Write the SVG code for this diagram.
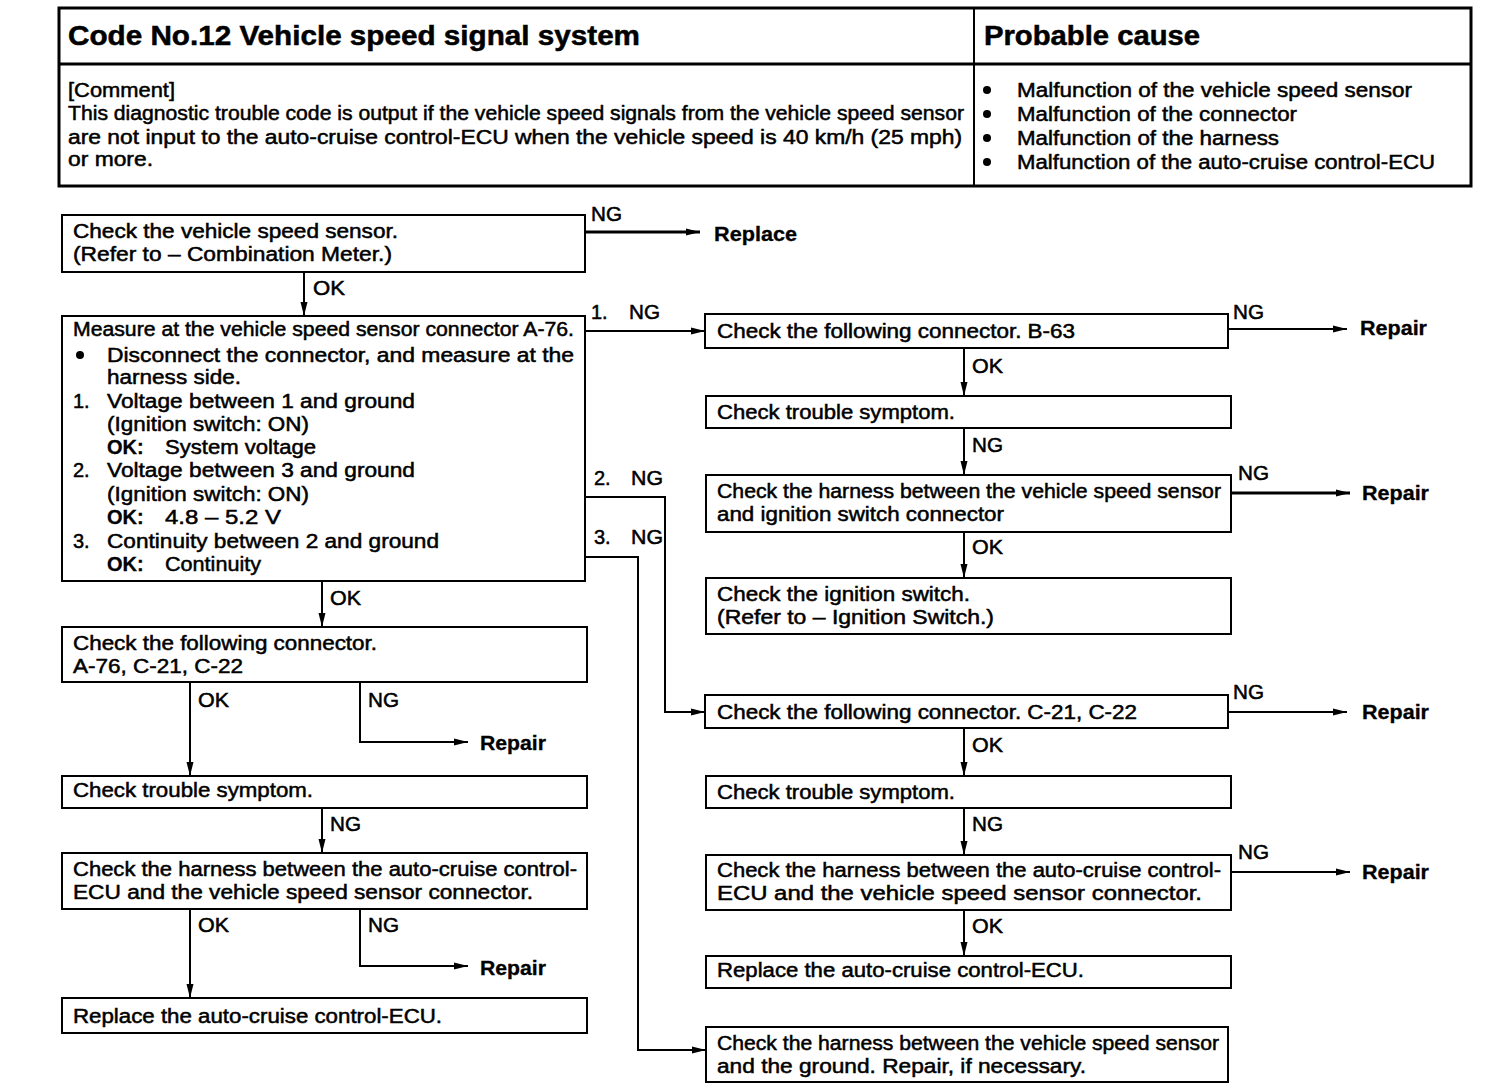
<svg xmlns="http://www.w3.org/2000/svg" width="1488" height="1090" viewBox="0 0 1488 1090">
<style>
.t{font-family:"Liberation Sans",Arial,sans-serif;font-size:20px;fill:#000;stroke:#000;stroke-width:0.5}
.b{font-weight:bold;stroke-width:0.3}
.h{font-family:"Liberation Sans",Arial,sans-serif;font-size:27px;font-weight:bold;fill:#000;stroke:#000;stroke-width:0.5}
.box{fill:#fff;stroke:#000;stroke-width:2}
.c{fill:none;stroke:#000;stroke-width:2}
.c3{fill:none;stroke:#000;stroke-width:3}
</style>
<defs>
<marker id="ar" markerUnits="userSpaceOnUse" markerWidth="16" markerHeight="10" refX="14" refY="5" orient="auto">
<path d="M0,1.5 L14,5 L0,8.5 Z" fill="#000"/>
</marker>
</defs>
<rect width="1488" height="1090" fill="#fff"/>

<g id="header">
<rect x="59" y="8" width="1412" height="178" fill="#fff" stroke="#000" stroke-width="3"/>
<line x1="974" y1="8" x2="974" y2="186" stroke="#000" stroke-width="2"/>
<line x1="59" y1="64" x2="1471" y2="64" stroke="#000" stroke-width="3"/>
<text class="h" x="68" y="45" textLength="572" lengthAdjust="spacingAndGlyphs">Code No.12 Vehicle speed signal system</text>
<text class="h" x="984" y="45" textLength="216" lengthAdjust="spacingAndGlyphs">Probable cause</text>
<text class="t" x="68" y="97" textLength="107" lengthAdjust="spacingAndGlyphs">[Comment]</text>
<text class="t" x="68" y="120" textLength="896" lengthAdjust="spacingAndGlyphs">This diagnostic trouble code is output if the vehicle speed signals from the vehicle speed sensor</text>
<text class="t" x="68" y="144" textLength="894" lengthAdjust="spacingAndGlyphs">are not input to the auto-cruise control-ECU when the vehicle speed is 40 km/h (25 mph)</text>
<text class="t" x="68" y="166" textLength="85" lengthAdjust="spacingAndGlyphs">or more.</text>
<circle cx="987" cy="90" r="4"/>
<circle cx="987" cy="114" r="4"/>
<circle cx="987" cy="138" r="4"/>
<circle cx="987" cy="162" r="4"/>
<text class="t" x="1017" y="97" textLength="395" lengthAdjust="spacingAndGlyphs">Malfunction of the vehicle speed sensor</text>
<text class="t" x="1017" y="121" textLength="280" lengthAdjust="spacingAndGlyphs">Malfunction of the connector</text>
<text class="t" x="1017" y="145" textLength="262" lengthAdjust="spacingAndGlyphs">Malfunction of the harness</text>
<text class="t" x="1017" y="169" textLength="418" lengthAdjust="spacingAndGlyphs">Malfunction of the auto-cruise control-ECU</text>
</g>

<g id="connectors">
<polyline class="c3" points="585,232 700,232" marker-end="url(#ar)"/>
<polyline class="c" points="304,272 304,316" marker-end="url(#ar)"/>
<polyline class="c" points="585,331 705,331" marker-end="url(#ar)"/>
<polyline class="c" points="585,497 665,497 665,712 705,712" marker-end="url(#ar)"/>
<polyline class="c" points="585,557 638,557 638,1050 706,1050" marker-end="url(#ar)"/>
<polyline class="c" points="322,581 322,627" marker-end="url(#ar)"/>
<polyline class="c" points="1228,329 1347,329" marker-end="url(#ar)"/>
<polyline class="c" points="964,348 964,396" marker-end="url(#ar)"/>
<polyline class="c" points="964,428 964,475" marker-end="url(#ar)"/>
<polyline class="c3" points="1231,493 1350,493" marker-end="url(#ar)"/>
<polyline class="c" points="964,532 964,578" marker-end="url(#ar)"/>
<polyline class="c" points="1228,712 1347,712" marker-end="url(#ar)"/>
<polyline class="c" points="964,728 964,776" marker-end="url(#ar)"/>
<polyline class="c" points="964,808 964,855" marker-end="url(#ar)"/>
<polyline class="c" points="1231,872 1350,872" marker-end="url(#ar)"/>
<polyline class="c" points="964,910 964,956" marker-end="url(#ar)"/>
<polyline class="c" points="190,682 190,776" marker-end="url(#ar)"/>
<polyline class="c" points="360,682 360,742 468,742" marker-end="url(#ar)"/>
<polyline class="c" points="322,808 322,853" marker-end="url(#ar)"/>
<polyline class="c" points="190,909 190,998" marker-end="url(#ar)"/>
<polyline class="c" points="360,909 360,966 468,966" marker-end="url(#ar)"/>
</g>

<g id="labels">
<text class="t" x="591" y="221" textLength="31" lengthAdjust="spacingAndGlyphs">NG</text>
<text class="t b" x="714" y="241" textLength="83" lengthAdjust="spacingAndGlyphs">Replace</text>
<text class="t" x="313" y="295" textLength="32" lengthAdjust="spacingAndGlyphs">OK</text>
<text class="t" x="591" y="319">1.</text>
<text class="t" x="629" y="319" textLength="31" lengthAdjust="spacingAndGlyphs">NG</text>
<text class="t" x="594" y="485">2.</text>
<text class="t" x="631" y="485" textLength="32" lengthAdjust="spacingAndGlyphs">NG</text>
<text class="t" x="594" y="544">3.</text>
<text class="t" x="631" y="544" textLength="32" lengthAdjust="spacingAndGlyphs">NG</text>
<text class="t" x="1233" y="319" textLength="31" lengthAdjust="spacingAndGlyphs">NG</text>
<text class="t b" x="1360" y="335" textLength="67" lengthAdjust="spacingAndGlyphs">Repair</text>
<text class="t" x="972" y="373" textLength="31" lengthAdjust="spacingAndGlyphs">OK</text>
<text class="t" x="972" y="452" textLength="31" lengthAdjust="spacingAndGlyphs">NG</text>
<text class="t" x="1238" y="480" textLength="31" lengthAdjust="spacingAndGlyphs">NG</text>
<text class="t b" x="1362" y="500" textLength="67" lengthAdjust="spacingAndGlyphs">Repair</text>
<text class="t" x="972" y="554" textLength="31" lengthAdjust="spacingAndGlyphs">OK</text>
<text class="t" x="1233" y="699" textLength="31" lengthAdjust="spacingAndGlyphs">NG</text>
<text class="t b" x="1362" y="719" textLength="67" lengthAdjust="spacingAndGlyphs">Repair</text>
<text class="t" x="972" y="752" textLength="31" lengthAdjust="spacingAndGlyphs">OK</text>
<text class="t" x="972" y="831" textLength="31" lengthAdjust="spacingAndGlyphs">NG</text>
<text class="t" x="1238" y="859" textLength="31" lengthAdjust="spacingAndGlyphs">NG</text>
<text class="t b" x="1362" y="879" textLength="67" lengthAdjust="spacingAndGlyphs">Repair</text>
<text class="t" x="972" y="933" textLength="31" lengthAdjust="spacingAndGlyphs">OK</text>
<text class="t" x="330" y="605" textLength="31" lengthAdjust="spacingAndGlyphs">OK</text>
<text class="t" x="198" y="707" textLength="31" lengthAdjust="spacingAndGlyphs">OK</text>
<text class="t" x="368" y="707" textLength="31" lengthAdjust="spacingAndGlyphs">NG</text>
<text class="t b" x="480" y="750" textLength="66" lengthAdjust="spacingAndGlyphs">Repair</text>
<text class="t" x="330" y="831" textLength="31" lengthAdjust="spacingAndGlyphs">NG</text>
<text class="t" x="198" y="932" textLength="31" lengthAdjust="spacingAndGlyphs">OK</text>
<text class="t" x="368" y="932" textLength="31" lengthAdjust="spacingAndGlyphs">NG</text>
<text class="t b" x="480" y="975" textLength="66" lengthAdjust="spacingAndGlyphs">Repair</text>
</g>

<g id="n1">
<rect class="box" x="62" y="215" width="523" height="57"/>
<text class="t" x="73" y="238" textLength="325" lengthAdjust="spacingAndGlyphs">Check the vehicle speed sensor.</text>
<text class="t" x="73" y="261" textLength="319" lengthAdjust="spacingAndGlyphs">(Refer to – Combination Meter.)</text>
</g>

<g id="n2">
<rect class="box" x="62" y="316" width="523" height="265"/>
<text class="t" x="73" y="336" textLength="501" lengthAdjust="spacingAndGlyphs">Measure at the vehicle speed sensor connector A-76.</text>
<circle cx="80" cy="355" r="4"/>
<text class="t" x="107" y="362" textLength="467" lengthAdjust="spacingAndGlyphs">Disconnect the connector, and measure at the</text>
<text class="t" x="107" y="384" textLength="134" lengthAdjust="spacingAndGlyphs">harness side.</text>
<text class="t" x="73" y="408">1.</text>
<text class="t" x="107" y="408" textLength="308" lengthAdjust="spacingAndGlyphs">Voltage between 1 and ground</text>
<text class="t" x="107" y="431" textLength="202" lengthAdjust="spacingAndGlyphs">(Ignition switch: ON)</text>
<text class="t b" x="107" y="454">OK:</text>
<text class="t" x="165" y="454" textLength="151" lengthAdjust="spacingAndGlyphs">System voltage</text>
<text class="t" x="73" y="477">2.</text>
<text class="t" x="107" y="477" textLength="308" lengthAdjust="spacingAndGlyphs">Voltage between 3 and ground</text>
<text class="t" x="107" y="501" textLength="202" lengthAdjust="spacingAndGlyphs">(Ignition switch: ON)</text>
<text class="t b" x="107" y="524">OK:</text>
<text class="t" x="165" y="524" textLength="116" lengthAdjust="spacingAndGlyphs">4.8 – 5.2 V</text>
<text class="t" x="73" y="548">3.</text>
<text class="t" x="107" y="548" textLength="332" lengthAdjust="spacingAndGlyphs">Continuity between 2 and ground</text>
<text class="t b" x="107" y="571">OK:</text>
<text class="t" x="165" y="571" textLength="96" lengthAdjust="spacingAndGlyphs">Continuity</text>
</g>

<g id="n3">
<rect class="box" x="62" y="627" width="525" height="55"/>
<text class="t" x="73" y="650" textLength="304" lengthAdjust="spacingAndGlyphs">Check the following connector.</text>
<text class="t" x="73" y="673" textLength="170" lengthAdjust="spacingAndGlyphs">A-76, C-21, C-22</text>
</g>

<g id="n4">
<rect class="box" x="62" y="776" width="525" height="32"/>
<text class="t" x="73" y="797" textLength="240" lengthAdjust="spacingAndGlyphs">Check trouble symptom.</text>
</g>

<g id="n5">
<rect class="box" x="62" y="853" width="525" height="56"/>
<text class="t" x="73" y="876" textLength="504" lengthAdjust="spacingAndGlyphs">Check the harness between the auto-cruise control-</text>
<text class="t" x="73" y="899" textLength="460" lengthAdjust="spacingAndGlyphs">ECU and the vehicle speed sensor connector.</text>
</g>

<g id="n6">
<rect class="box" x="62" y="998" width="525" height="35"/>
<text class="t" x="73" y="1023" textLength="369" lengthAdjust="spacingAndGlyphs">Replace the auto-cruise control-ECU.</text>
</g>

<g id="n7">
<rect class="box" x="705" y="314" width="523" height="34"/>
<text class="t" x="717" y="338" textLength="358" lengthAdjust="spacingAndGlyphs">Check the following connector. B-63</text>
</g>

<g id="n8">
<rect class="box" x="706" y="396" width="525" height="32"/>
<text class="t" x="717" y="419" textLength="238" lengthAdjust="spacingAndGlyphs">Check trouble symptom.</text>
</g>

<g id="n9">
<rect class="box" x="706" y="475" width="525" height="57"/>
<text class="t" x="717" y="498" textLength="504" lengthAdjust="spacingAndGlyphs">Check the harness between the vehicle speed sensor</text>
<text class="t" x="717" y="521" textLength="287" lengthAdjust="spacingAndGlyphs">and ignition switch connector</text>
</g>

<g id="n10">
<rect class="box" x="706" y="578" width="525" height="56"/>
<text class="t" x="717" y="601" textLength="253" lengthAdjust="spacingAndGlyphs">Check the ignition switch.</text>
<text class="t" x="717" y="624" textLength="277" lengthAdjust="spacingAndGlyphs">(Refer to – Ignition Switch.)</text>
</g>

<g id="n11">
<rect class="box" x="705" y="695" width="523" height="33"/>
<text class="t" x="717" y="719" textLength="420" lengthAdjust="spacingAndGlyphs">Check the following connector. C-21, C-22</text>
</g>

<g id="n12">
<rect class="box" x="706" y="776" width="525" height="32"/>
<text class="t" x="717" y="799" textLength="238" lengthAdjust="spacingAndGlyphs">Check trouble symptom.</text>
</g>

<g id="n13">
<rect class="box" x="706" y="855" width="525" height="55"/>
<text class="t" x="717" y="877" textLength="504" lengthAdjust="spacingAndGlyphs">Check the harness between the auto-cruise control-</text>
<text class="t" x="717" y="900" textLength="485" lengthAdjust="spacingAndGlyphs">ECU and the vehicle speed sensor connector.</text>
</g>

<g id="n14">
<rect class="box" x="706" y="956" width="525" height="32"/>
<text class="t" x="717" y="977" textLength="367" lengthAdjust="spacingAndGlyphs">Replace the auto-cruise control-ECU.</text>
</g>

<g id="n15">
<rect class="box" x="706" y="1027" width="522" height="55"/>
<text class="t" x="717" y="1050" textLength="502" lengthAdjust="spacingAndGlyphs">Check the harness between the vehicle speed sensor</text>
<text class="t" x="717" y="1073" textLength="369" lengthAdjust="spacingAndGlyphs">and the ground. Repair, if necessary.</text>
</g>
</svg>
